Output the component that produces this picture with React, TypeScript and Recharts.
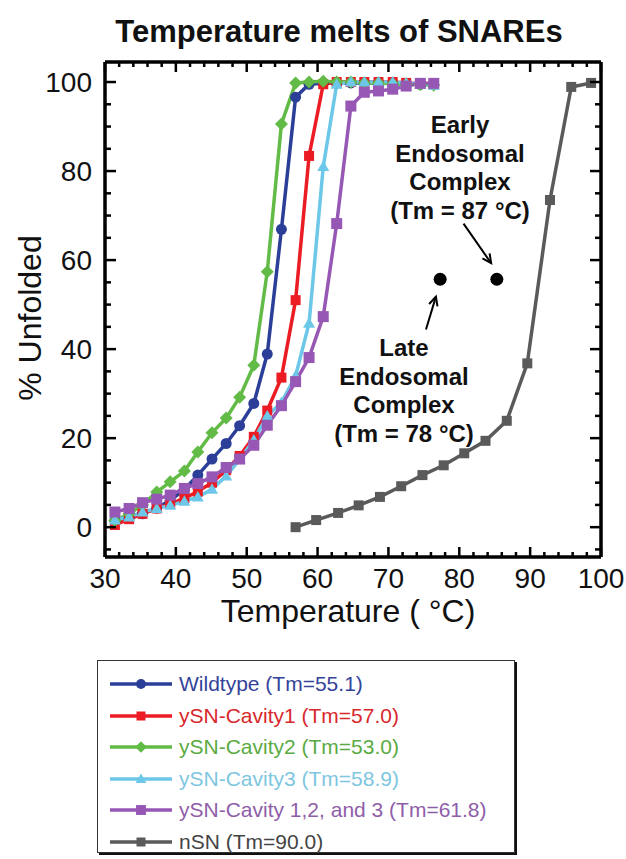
import React from 'react';
import { ComposedChart, Line, XAxis, YAxis, ReferenceDot, ReferenceLine } from 'recharts';

const FONT = '"Liberation Sans", Arial, Helvetica, sans-serif';

// ---- data ----
const ysnTemps = [31.4, 33.4, 35.3, 37.3, 39.2, 41.2, 43.1, 45.1, 47.1, 49.0, 51.0, 52.9, 54.9, 56.9, 58.8, 60.8, 62.7, 64.7, 66.6, 68.6, 70.6, 72.5, 74.5, 76.4];
const wildtype = [1.5, 2.0, 3.0, 4.3, 6.0, 8.5, 11.7, 15.3, 18.8, 22.8, 27.8, 38.9, 66.9, 96.6, 99.5, 99.7, 99.8, 99.8, 99.8, 99.8, 99.7, 99.6, 99.5, 99.4];
const cavity1 = [0.5, 1.8, 3.0, 4.2, 5.2, 6.5, 8.0, 10.0, 12.8, 16.0, 20.3, 26.2, 33.6, 51.0, 83.4, 99.5, 100, 100, 100, 100, 100, 99.8, 99.6, 99.5];
const cavity2 = [1.5, 3.0, 5.0, 7.9, 10.2, 12.6, 16.9, 21.2, 24.5, 29.2, 36.4, 57.4, 90.6, 99.8, 100, 100.2, 100, 100, 99.8, 99.8, 99.6, 99.5, 99.4, 99.3];
const cavity3 = [1.6, 2.3, 3.4, 4.2, 4.9, 5.8, 6.8, 8.5, 11.5, 15.2, 19.6, 25.0, 28.0, 34.0, 45.8, 81.0, 99.5, 100, 100, 100, 100, 99.8, 99.5, 99.3];
const cavity123 = [3.4, 4.2, 5.5, 6.3, 7.2, 8.7, 9.8, 11.3, 13.4, 15.3, 18.4, 22.9, 27.3, 32.7, 38.1, 47.3, 68.2, 94.6, 97.7, 98.0, 98.4, 99.1, 99.7, 99.7];

const nsnTemps = [56.9, 59.8, 62.9, 65.8, 68.8, 71.8, 74.8, 77.8, 80.7, 83.7, 86.7, 89.6, 92.8, 95.8, 98.6];
const nsn = [0, 1.6, 3.2, 4.9, 6.8, 9.2, 11.7, 13.9, 16.6, 19.4, 23.9, 36.8, 73.5, 98.9, 99.8];

const complexTemps = [77.3, 85.3];
const complexValues = [55.7, 55.7];

const lateArrow = [{ x: 75.3, y: 44.4 }, { x: 76.7, y: 51.8 }];
const earlyArrow = [{ x: 80.6, y: 68.2 }, { x: 84.5, y: 59.3 }];

const xTicks = [30, 32, 34, 36, 38, 40, 42, 44, 46, 48, 50, 52, 54, 56, 58, 60, 62, 64, 66, 68, 70, 72, 74, 76, 78, 80, 82, 84, 86, 88, 90, 92, 94, 96, 98, 100];
const yTicks = [-5, 0, 5, 10, 15, 20, 25, 30, 35, 40, 45, 50, 55, 60, 65, 70, 75, 80, 85, 90, 95, 100];

const seriesNames = [
  'Wildtype (Tm=55.1)',
  'ySN-Cavity1 (Tm=57.0)',
  'ySN-Cavity2 (Tm=53.0)',
  'ySN-Cavity3 (Tm=58.9)',
  'ySN-Cavity 1,2, and 3 (Tm=61.8)',
  'nSN (Tm=90.0)',
];

const toData = (ts: number[], vs: number[]) => ts.map((t, i) => ({ t, v: vs[i] }));

const series = [
  { name: seriesNames[0], color: '#2b3f98', text: '#34439a', shape: 'circle', size: 11, data: toData(ysnTemps, wildtype) },
  { name: seriesNames[1], color: '#ec1c24', text: '#d8282c', shape: 'square', size: 10, data: toData(ysnTemps, cavity1) },
  { name: seriesNames[2], color: '#62bb46', text: '#5aab43', shape: 'diamond', size: 13, data: toData(ysnTemps, cavity2) },
  { name: seriesNames[3], color: '#6cc7e8', text: '#7ec6e0', shape: 'triangle', size: 12, data: toData(ysnTemps, cavity3) },
  { name: seriesNames[4], color: '#9658b4', text: '#8f5ea9', shape: 'square', size: 11, data: toData(ysnTemps, cavity123) },
  { name: seriesNames[5], color: '#5a5a5a', text: '#444444', shape: 'square', size: 10, data: toData(nsnTemps, nsn) },
];

function markerEl(shape: string, cx: number, cy: number, size: number, color: string, key?: string) {
  const h = size / 2;
  if (shape === 'circle') return <circle key={key} cx={cx} cy={cy} r={h} fill={color} />;
  if (shape === 'square') return <rect key={key} x={cx - h} y={cy - h} width={size} height={size} fill={color} />;
  if (shape === 'diamond')
    return <path key={key} d={`M${cx},${cy - h}L${cx + h},${cy}L${cx},${cy + h}L${cx - h},${cy}Z`} fill={color} />;
  // triangle
  return <path key={key} d={`M${cx},${cy - h}L${cx + h},${cy + h * 0.75}L${cx - h},${cy + h * 0.75}Z`} fill={color} />;
}

const makeDot = (shape: string, color: string, size: number, sid: number) => (props: any) => {
  const { cx, cy, index } = props;
  const key = `d-${sid}-${index}`;
  if (cx == null || cy == null) return <g key={key} />;
  return markerEl(shape, cx, cy, size, color, key);
};

const TICK_W = 2.5;

const BottomTick = (props: any) => {
  const { x, y, payload } = props;
  const v = payload.value;
  const major = v % 10 === 0;
  return (
    <g>
      <line x1={x} y1={y} x2={x} y2={y - (major ? 10 : 5)} stroke="#000" strokeWidth={TICK_W} />
      {major && (
        <text x={x} y={y + 31} textAnchor="middle" fontSize={28} fontFamily={FONT} fill="#111">
          {v}
        </text>
      )}
    </g>
  );
};

const TopTick = (props: any) => {
  const { x, y, payload } = props;
  const major = payload.value % 10 === 0;
  return <line x1={x} y1={y} x2={x} y2={y + (major ? 10 : 5)} stroke="#000" strokeWidth={TICK_W} />;
};

const LeftTick = (props: any) => {
  const { x, y, payload } = props;
  const v = payload.value;
  const major = v % 20 === 0;
  return (
    <g>
      <line x1={x} y1={y} x2={x + (major ? 11 : 6)} y2={y} stroke="#000" strokeWidth={TICK_W} />
      {major && (
        <text x={x - 13} y={y + 10} textAnchor="end" fontSize={28} fontFamily={FONT} fill="#111">
          {v}
        </text>
      )}
    </g>
  );
};

const RightTick = (props: any) => {
  const { x, y, payload } = props;
  const major = payload.value % 20 === 0;
  return <line x1={x} y1={y} x2={x - (major ? 11 : 6)} y2={y} stroke="#000" strokeWidth={TICK_W} />;
};

const ArrowShape = (p: any) => {
  const { x1, y1, x2, y2 } = p;
  const ang = Math.atan2(y2 - y1, x2 - x1);
  const L = 10;
  const a1 = ang + Math.PI - 0.45;
  const a2 = ang + Math.PI + 0.45;
  return (
    <g>
      <line x1={x1} y1={y1} x2={x2} y2={y2} stroke="#000" strokeWidth={2} />
      <path
        d={`M${x2 + L * Math.cos(a1)},${y2 + L * Math.sin(a1)}L${x2},${y2}L${x2 + L * Math.cos(a2)},${y2 + L * Math.sin(a2)}`}
        fill="none"
        stroke="#000"
        strokeWidth={2}
      />
    </g>
  );
};

const annoStyle: React.CSSProperties = {
  position: 'absolute',
  width: 240,
  textAlign: 'center',
  fontFamily: FONT,
  fontWeight: 'bold',
  fontSize: 24,
  lineHeight: '28.5px',
  color: '#111',
};

export default function App() {
  return (
    <div style={{ position: 'absolute', left: 0, top: 0, width: 626, height: 859, background: '#fff', fontFamily: FONT }}>
      <div
        style={{
          position: 'absolute',
          left: 0,
          width: 678,
          top: 16,
          textAlign: 'center',
          fontSize: 31,
          lineHeight: '31px',
          fontWeight: 'bold',
          color: '#111',
        }}
      >
        Temperature melts of SNAREs
      </div>

      <div style={{ position: 'absolute', left: 0, top: 0 }}>
        <ComposedChart width={626} height={640} margin={{ top: 61, right: 24, bottom: 43, left: 45 }}>
          <XAxis
            xAxisId="x"
            type="number"
            dataKey="t"
            domain={[30, 100]}
            ticks={xTicks}
            interval={0}
            allowDataOverflow
            height={40}
            tickSize={0}
            tickMargin={0}
            tickLine={false}
            axisLine={{ stroke: '#000', strokeWidth: 3.5 }}
            tick={BottomTick}
          />
          <XAxis
            xAxisId="xt"
            orientation="top"
            type="number"
            dataKey="t"
            domain={[30, 100]}
            ticks={xTicks}
            interval={0}
            allowDataOverflow
            height={1}
            tickSize={0}
            tickMargin={0}
            tickLine={false}
            axisLine={{ stroke: '#000', strokeWidth: 3.5 }}
            tick={TopTick}
          />
          <YAxis
            yAxisId="y"
            type="number"
            domain={[-6.7, 104.5]}
            ticks={yTicks}
            interval={0}
            allowDataOverflow
            width={60}
            tickSize={0}
            tickMargin={0}
            tickLine={false}
            axisLine={{ stroke: '#000', strokeWidth: 3.5 }}
            tick={LeftTick}
          />
          <YAxis
            yAxisId="yr"
            orientation="right"
            type="number"
            domain={[-6.7, 104.5]}
            ticks={yTicks}
            interval={0}
            allowDataOverflow
            width={1}
            tickSize={0}
            tickMargin={0}
            tickLine={false}
            axisLine={{ stroke: '#000', strokeWidth: 3.5 }}
            tick={RightTick}
          />

          {series.map((s, i) => (
            <Line
              key={s.name}
              xAxisId="x"
              yAxisId="y"
              data={s.data}
              dataKey="v"
              name={s.name}
              type="linear"
              stroke={s.color}
              strokeWidth={3.5}
              dot={makeDot(s.shape, s.color, s.size, i)}
              activeDot={false}
              isAnimationActive={false}
            />
          ))}

          {complexTemps.map((t, i) => (
            <ReferenceDot key={`c-${i}`} xAxisId="x" yAxisId="y" x={t} y={complexValues[i]} r={6.5} fill="#000" stroke="none" />
          ))}

          <ReferenceLine xAxisId="x" yAxisId="y" segment={lateArrow} shape={ArrowShape} />
          <ReferenceLine xAxisId="x" yAxisId="y" segment={earlyArrow} shape={ArrowShape} />
        </ComposedChart>
      </div>

      {/* annotations */}
      <div style={{ ...annoStyle, left: 460 - 120, top: 111 }}>
        Early
        <br />
        Endosomal
        <br />
        Complex
        <br />
        (Tm = 87 °C)
      </div>
      <div style={{ ...annoStyle, left: 404 - 120, top: 334 }}>
        Late
        <br />
        Endosomal
        <br />
        Complex
        <br />
        (Tm = 78 °C)
      </div>

      {/* axis titles */}
      <div
        style={{
          position: 'absolute',
          left: 348 - 200,
          width: 400,
          top: 611 - 20,
          height: 40,
          lineHeight: '40px',
          textAlign: 'center',
          fontSize: 32,
          color: '#111',
        }}
      >
        Temperature ( °C)
      </div>
      <div
        style={{
          position: 'absolute',
          left: 30 - 150,
          width: 300,
          top: 318 - 20,
          height: 40,
          lineHeight: '40px',
          textAlign: 'center',
          fontSize: 32,
          color: '#111',
          transform: 'rotate(-90deg)',
          transformOrigin: '50% 50%',
        }}
      >
        % Unfolded
      </div>

      {/* legend */}
      <div
        style={{
          position: 'absolute',
          left: 97,
          top: 660,
          width: 418,
          height: 193,
          border: '1.5px solid #333',
          boxShadow: '2px 2px 0 #111',
          boxSizing: 'border-box',
          background: '#fff',
        }}
      >
        {series.map((s, i) => (
          <div
            key={s.name}
            style={{ position: 'absolute', left: 0, top: 23 + i * 31.6 - 15, height: 30, display: 'flex', alignItems: 'center' }}
          >
            <svg width={82} height={30} style={{ display: 'block' }}>
              <line x1={12} y1={15} x2={74} y2={15} stroke={s.color} strokeWidth={3.5} />
              {markerEl(s.shape, 43, 15, s.size * 0.9, s.color)}
            </svg>
            <span style={{ fontSize: 21, color: s.text, whiteSpace: 'nowrap', marginLeft: -1 }}>{s.name}</span>
          </div>
        ))}
      </div>
    </div>
  );
}
